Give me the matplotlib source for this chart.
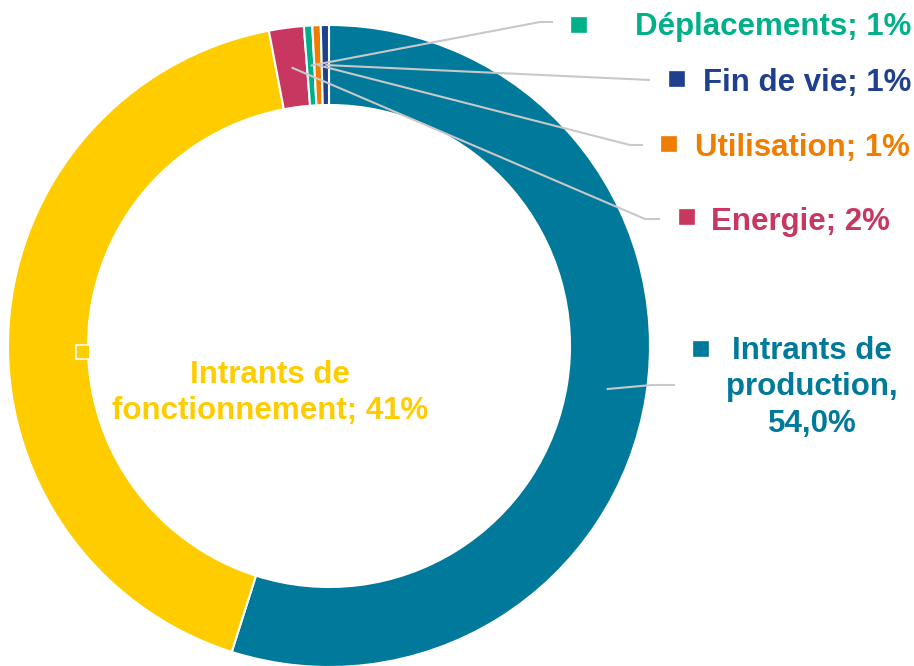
import matplotlib

matplotlib.use("Agg")
import matplotlib.pyplot as plt
import numpy as np

plt.rcParams["font.family"] = ["Liberation Sans", "DejaVu Sans"]

# data, clockwise from 12 o'clock
categories = ["Intrants de production", "Intrants de fonctionnement", "Energie",
              "Déplacements", "Utilisation", "Fin de vie"]
shares = [54.9, 42.1, 1.75, 0.42, 0.42, 0.41]
label_texts = ["Intrants de\nproduction,\n54,0%", "Intrants de\nfonctionnement; 41%",
               "Energie; 2%", "Déplacements; 1%", "Utilisation; 1%", "Fin de vie; 1%"]
colors = ["#00799B", "#FFCC00", "#C8375F", "#00B08A", "#EE7D00", "#1F3F8F"]

W, H = 914, 666
CX, CY = 329, H - 346
R_OUT, R_IN = 321, 241
LEADER = "#C8C8C8"

fig = plt.figure(figsize=(W / 100, H / 100), dpi=100)
ax = fig.add_axes([0, 0, 1, 1])
wedges, _ = ax.pie(shares, colors=colors, startangle=90, counterclock=False,
                   center=(CX, CY), radius=R_OUT,
                   wedgeprops=dict(width=R_OUT - R_IN, edgecolor="white", linewidth=1.5))
ax.set_xlim(0, W)
ax.set_ylim(0, H)
ax.set_aspect("equal")
ax.axis("off")


def anchor(w, r=(R_OUT + R_IN) / 2):
    ang = np.deg2rad((w.theta1 + w.theta2) / 2)
    return CX + r * np.cos(ang), CY + r * np.sin(ang)


def y(py):
    return H - py


# (square x, square y, text x, baseline y, ha, leader points after the anchor)
layout = {
    "Intrants de production": (701, 349, 812, 359, "center", [(652, 385), (675, 385)]),
    "Intrants de fonctionnement": (83, 352, 270, 383, "center", None),
    "Energie": (687, 217, 890, 230, "right", [(645, 219), (660, 219)]),
    "Déplacements": (579, 25, 911, 35, "right", [(540, 22), (553, 22)]),
    "Utilisation": (669, 144, 910, 156, "right", [(630, 145), (643, 145)]),
    "Fin de vie": (677, 79, 911, 91, "right", [(650, 80)]),
}

for w, cat, txt, col in zip(wedges, categories, label_texts, colors):
    sx, sy, tx, ty, ha, pts = layout[cat]
    if pts:
        ax0, ay0 = anchor(w)
        xs = [ax0] + [p[0] for p in pts]
        ys = [ay0] + [y(p[1]) for p in pts]
        ax.plot(xs, ys, color=LEADER, lw=1.5, solid_capstyle="butt", zorder=3)
    edge = "white" if cat == "Intrants de fonctionnement" else col
    ax.plot(sx, y(sy), marker="s", ms=9.5, mfc=col, mec=edge, mew=1.2, zorder=4)
    lines = txt.split("\n")
    for i, line in enumerate(lines):
        ax.text(tx, y(ty + i * 36.5), line, color=col, fontsize=22.5, fontweight="bold",
                ha=ha, va="baseline", zorder=5)

fig.savefig("out.png", dpi=100)
